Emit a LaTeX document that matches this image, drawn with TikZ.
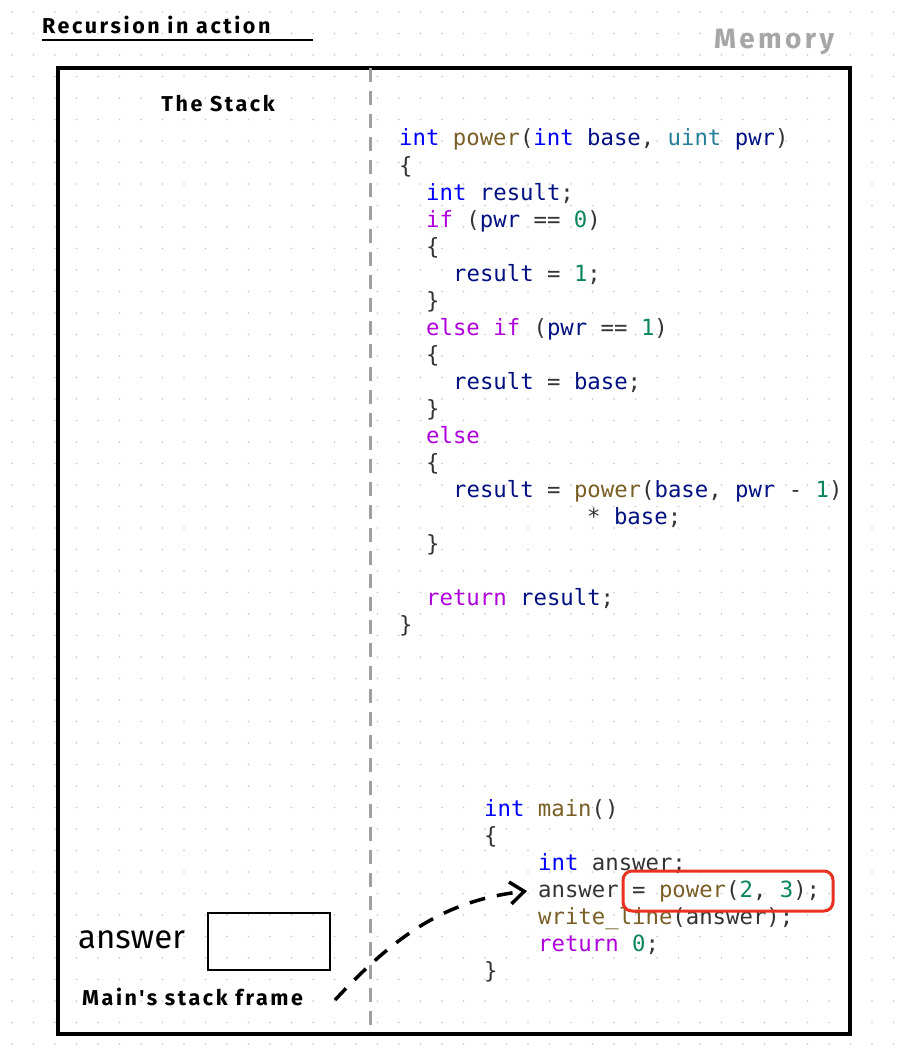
\documentclass[tikz,border=0pt]{standalone}
\usepackage{fontspec}
\setmainfont{Fira Sans}
\newfontfamily\handfont[LetterSpace=12]{Fira Sans}
\newfontfamily\codefont{DejaVu Sans Mono}
\usetikzlibrary{arrows.meta}
\definecolor{kw}{HTML}{0000FF}
\definecolor{id}{HTML}{001080}
\definecolor{fn}{HTML}{795E26}
\definecolor{num}{HTML}{098658}
\definecolor{ctl}{HTML}{AF00DB}
\definecolor{ty}{HTML}{267F99}
\definecolor{pn}{HTML}{333333}
\definecolor{redbox}{HTML}{E8311F}
\newcommand{\K}[1]{\textcolor{kw}{#1}}
\newcommand{\I}[1]{\textcolor{id}{#1}}
\newcommand{\F}[1]{\textcolor{fn}{#1}}
\newcommand{\N}[1]{\textcolor{num}{#1}}
\newcommand{\C}[1]{\textcolor{ctl}{#1}}
\newcommand{\T}[1]{\textcolor{ty}{#1}}
\begin{document}
\begin{tikzpicture}[x=1pt,y=-1pt,
  code/.style={anchor=base west,inner sep=0pt,font=\codefont\fontsize{22.3}{27}\selectfont,text=pn},
  hand/.style={inner sep=0pt,font=\handfont\bfseries\fontsize{21.5}{24}\selectfont}]
\useasboundingbox (0,0) rectangle (903,1062);
\fill[white] (0,0) rectangle (903,1062);
\foreach \i in {0,...,41} \foreach \j in {0,...,49}
  \fill[gray!45] (\i*21.5+12,\j*21.5+12) circle (0.9);
\node[hand,anchor=west] (title) at (42,25) {Recursion in action};
\draw[line width=1.5] (42,40) -- (313,40);
\node[hand,text=gray!70,font=\handfont\bfseries\fontsize{28}{30}\selectfont] (mem) at (774,42) {Memory};
\draw[line width=4] (58,68) rectangle (850,1034);
\node[hand] (stack) at (218,104) {The Stack};
\draw[gray!75,line width=3,dash pattern=on 14pt off 9pt] (370,68) -- (370,1030);
\def\L#1#2#3{\node[code] at (#1,#2) {#3};}
\L{399}{146}{\K{int} \F{power}(\K{int} \I{base}, \T{uint} \I{pwr})}
\L{399}{173}{\{}
\L{426}{200}{\K{int} \I{result};}
\L{426}{227}{\C{if} (\I{pwr} == \N{0})}
\L{426}{254}{\{}
\L{453}{281}{\I{result} = \N{1};}
\L{426}{308}{\}}
\L{426}{335}{\C{else} \C{if} (\I{pwr} == \N{1})}
\L{426}{362}{\{}
\L{453}{389}{\I{result} = \I{base};}
\L{426}{416}{\}}
\L{426}{443}{\C{else}}
\L{426}{470}{\{}
\L{453}{497}{\I{result} = \F{power}(\I{base}, \I{pwr} - \N{1})}
\L{587}{524}{* \I{base};}
\L{426}{551}{\}}
\L{426}{605}{\C{return} \I{result};}
\L{399}{632}{\}}
\L{484}{816}{\K{int} \F{main}()}
\L{484}{843}{\{}
\L{538}{870}{\K{int} answer;}
\node[code] (ans) at (538,897) {answer = \F{power}(\N{2}, \N{3});};
\L{538}{924}{\F{write\_line}(answer);}
\L{538}{951}{\C{return} \N{0};}
\L{484}{978}{\}}
\draw[redbox,line width=3,rounded corners=9] (623,871) rectangle (833,911);
\node[draw,line width=2.5,minimum width=122,minimum height=57,inner sep=0] (box) at (269,941.5) {};
\node[inner sep=0pt,font=\fontsize{33}{34}\selectfont,anchor=west] (lbl) at (78,940) {answer};
\node[hand,anchor=west] (frame) at (82,997) {Main\char39 s stack frame};
\coordinate (s) at (335,1000);
\coordinate (e) at (527,891);
\draw[line width=3.5,dash pattern=on 16pt off 12pt,-{Straight Barb[length=14pt,width=22pt,line width=3.5]}] (s) .. controls (400,930) and (450,900) .. (e);
\end{tikzpicture}
\end{document}
